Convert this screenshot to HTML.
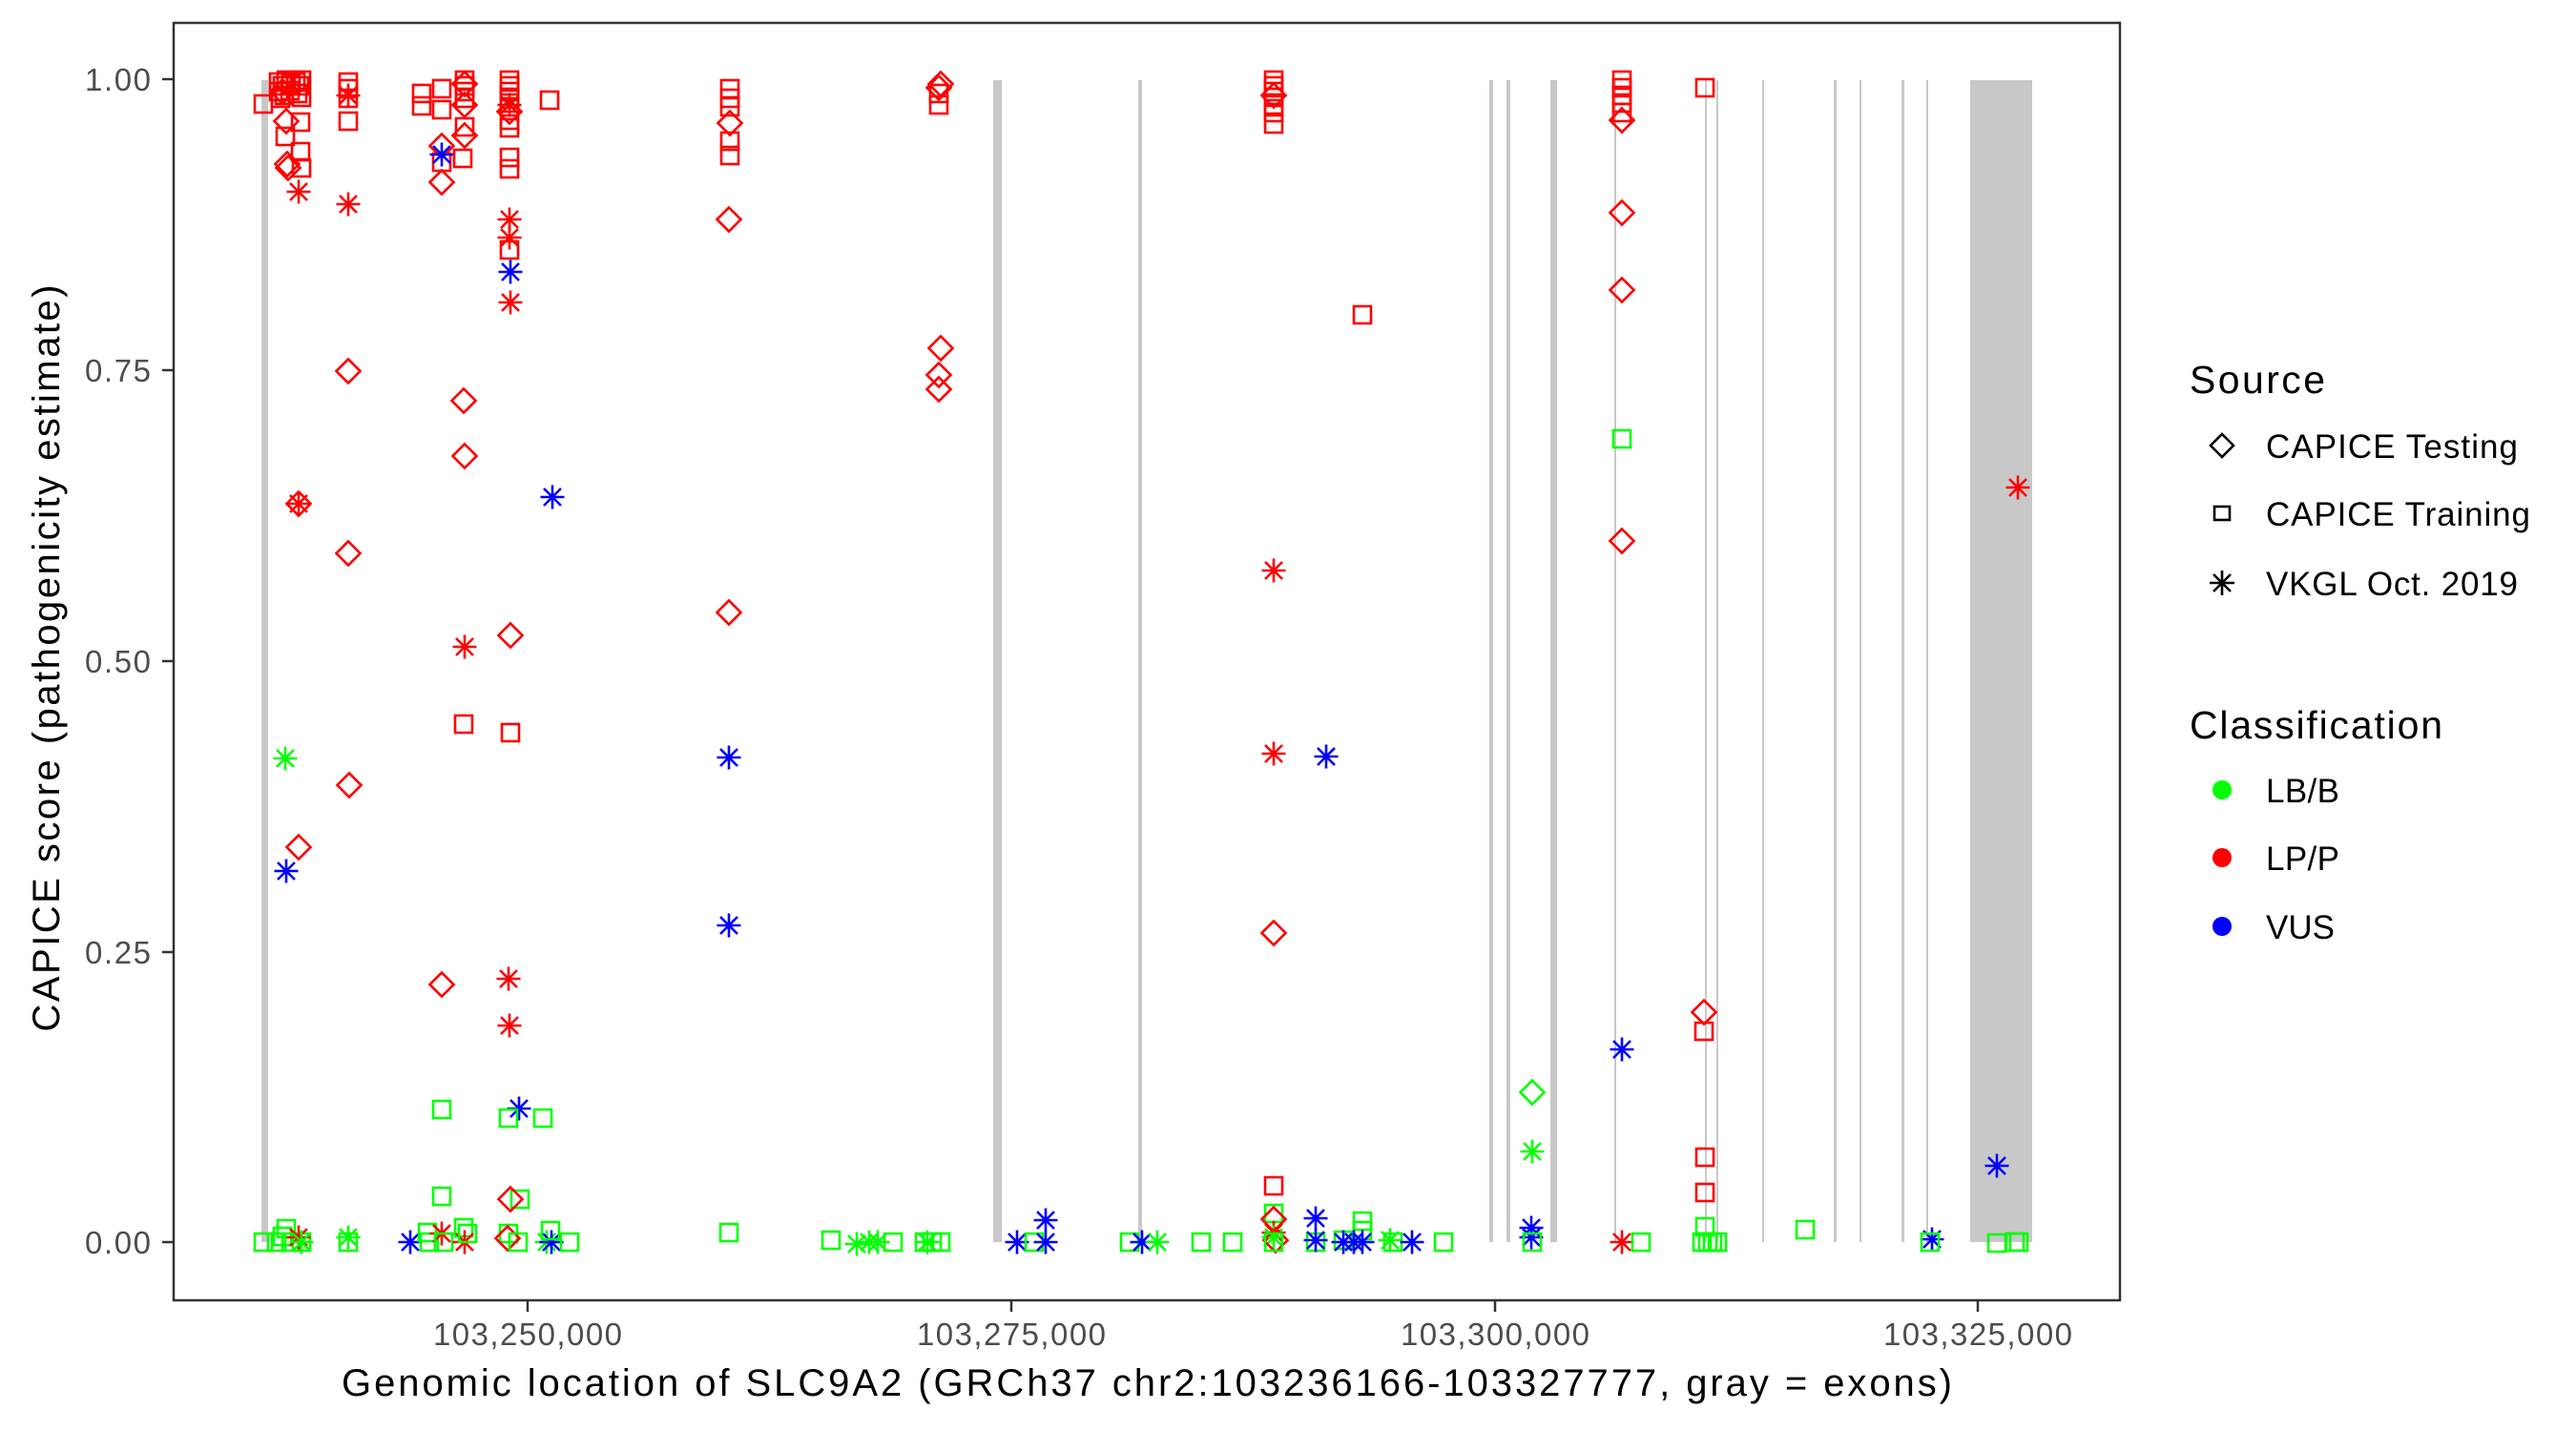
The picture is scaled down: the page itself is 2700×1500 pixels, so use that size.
<!DOCTYPE html>
<html><head><meta charset="utf-8"><style>
html,body{margin:0;padding:0;background:#fff;}
svg{display:block;font-family:"Liberation Sans",Arial,sans-serif;}
</style></head><body>
<svg id="s" width="2700" height="1500" viewBox="0 0 2700 1500" xmlns="http://www.w3.org/2000/svg">
<rect width="2700" height="1500" fill="#fff"/>
<g id="exons" fill="#c8c8c8">
<rect x="274" y="84" width="7" height="1218"/>
<rect x="1041" y="84" width="9" height="1218"/>
<rect x="1193" y="84" width="4" height="1218"/>
<rect x="1561" y="84" width="4" height="1218"/>
<rect x="1579" y="84" width="4" height="1218"/>
<rect x="1625" y="84" width="7" height="1218"/>
<rect x="1692" y="84" width="2" height="1218"/>
<rect x="1787" y="84" width="2" height="1218"/>
<rect x="1799" y="84" width="2" height="1218"/>
<rect x="1847" y="84" width="2" height="1218"/>
<rect x="1922" y="84" width="3" height="1218"/>
<rect x="1949" y="84" width="2" height="1218"/>
<rect x="1993" y="84" width="3" height="1218"/>
<rect x="2019" y="84" width="2" height="1218"/>
<rect x="2065" y="84" width="65" height="1218"/>
</g>
<g id="pts" fill="none" stroke-width="2.6"></g>
<rect x="182" y="24" width="2040" height="1339" fill="none" stroke="#333" stroke-width="2.5"/>
<g stroke="#333" stroke-width="2.5">
<line x1="170" y1="83" x2="182" y2="83"/><line x1="170" y1="388" x2="182" y2="388"/><line x1="170" y1="693" x2="182" y2="693"/><line x1="170" y1="998" x2="182" y2="998"/><line x1="170" y1="1302" x2="182" y2="1302"/>
<line x1="553" y1="1363" x2="553" y2="1375"/><line x1="1060" y1="1363" x2="1060" y2="1375"/><line x1="1567" y1="1363" x2="1567" y2="1375"/><line x1="2073" y1="1363" x2="2073" y2="1375"/>
</g>
<g fill="#4d4d4d" font-size="33" text-anchor="end">
<text x="158" y="95" textLength="69">1.00</text>
<text x="158" y="400" textLength="69">0.75</text>
<text x="158" y="705" textLength="69">0.50</text>
<text x="158" y="1010" textLength="69">0.25</text>
<text x="158" y="1314" textLength="69">0.00</text>
</g>
<g fill="#4d4d4d" font-size="33" text-anchor="middle">
<text x="553" y="1410" textLength="198">103,250,000</text>
<text x="1060" y="1410" textLength="198">103,275,000</text>
<text x="1567" y="1410" textLength="198">103,300,000</text>
<text x="2073" y="1410" textLength="198">103,325,000</text>
</g>
<text x="1202" y="1463" font-size="40" text-anchor="middle" textLength="1688" fill="#000">Genomic location of SLC9A2 (GRCh37 chr2:103236166-103327777, gray = exons)</text>
<text transform="translate(62,690) rotate(-90)" font-size="40" text-anchor="middle" textLength="783" fill="#000">CAPICE score (pathogenicity estimate)</text>
<g fill="#000">
<text x="2295" y="412" font-size="41" textLength="142">Source</text>
<text x="2375" y="480" font-size="35" textLength="264">CAPICE Testing</text>
<text x="2375" y="551" font-size="35" textLength="277">CAPICE Training</text>
<text x="2375" y="624" font-size="35" textLength="264">VKGL Oct. 2019</text>
<text x="2295" y="774" font-size="41" textLength="265">Classification</text>
<text x="2375" y="841" font-size="35" textLength="77">LB/B</text>
<text x="2375" y="912" font-size="35" textLength="77">LP/P</text>
<text x="2375" y="984" font-size="35" textLength="72">VUS</text>
</g>
<g stroke="#000" stroke-width="2.6" fill="none">
<path d="M2329 455 L2341 467 L2329 479 L2317 467 Z"/>
<rect x="2321" y="531" width="16" height="14"/>
<path d="M2329 598 V624 M2316 611 H2342 M2320 602 L2338 620 M2338 602 L2320 620"/>
</g>
<circle cx="2329" cy="828" r="10" fill="#00ff00"/>
<circle cx="2329" cy="899" r="10" fill="#ff0000"/>
<circle cx="2329" cy="971" r="10" fill="#0000ff"/>
</svg>
<script>
var C={r:"#ff0000",g:"#00ff00",b:"#0000ff"};
var P=[
// col ~300
[292,86,"S","r"],[296,90,"S","r"],[300,84,"S","r"],[305,88,"S","r"],[310,86,"S","r"],[314,90,"S","r"],[316,84,"S","r"],[292,96,"S","r"],[298,100,"S","r"],[304,95,"S","r"],[312,98,"S","r"],[316,102,"S","r"],[294,103,"S","r"],
[300,127,"D","r"],[296,96,"D","r"],[299,143,"S","r"],[315,128,"S","r"],[315,159,"S","r"],[316,176,"S","r"],[276,109,"S","r"],[301,172,"D","r"],[302,176,"D","r"],[313,201,"A","r"],[313,528,"A","r"],[313,528,"D","r"],
// col 365
[365,86,"S","r"],[365,93,"S","r"],[365,103,"S","r"],[365,127,"S","r"],[365,100,"A","r"],[365,214,"A","r"],[365,389,"D","r"],[365,580,"D","r"],[366,823,"D","r"],
// 442-463
[442,98,"S","r"],[442,111,"S","r"],[463,93,"S","r"],[463,115,"S","r"],[463,170,"S","r"],[463,153,"D","r"],[463,191,"D","r"],[463,162,"A","b"],
// 487
[487,84,"S","r"],[487,90,"S","r"],[487,96,"S","r"],[487,103,"S","r"],[487,133,"S","r"],[485,166,"S","r"],[487,110,"D","r"],[487,142,"D","r"],[487,88,"D","r"],[486,420,"D","r"],[487,478,"D","r"],[487,678,"A","r"],[486,759,"S","r"],
// 534
[534,84,"S","r"],[534,90,"S","r"],[534,96,"S","r"],[534,104,"S","r"],[534,112,"S","r"],[534,126,"S","r"],[534,134,"S","r"],[534,165,"S","r"],[534,177,"S","r"],[534,262,"S","r"],[534,117,"D","r"],[534,230,"A","r"],[534,249,"A","r"],[535,317,"A","r"],[534,110,"A","r"],[535,285,"A","b"],[535,666,"D","r"],[535,768,"S","r"],
[576,105,"S","r"],[579,521,"A","b"],
// 765
[765,93,"S","r"],[765,103,"S","r"],[765,112,"S","r"],[765,148,"S","r"],[765,163,"S","r"],[765,129,"D","r"],[764,230,"D","r"],[764,642,"D","r"],[764,794,"A","b"],[764,970,"A","b"],[764,1292,"S","g"],
// misc left
[299,795,"A","g"],[313,888,"D","r"],[300,913,"A","b"],
[463,1032,"D","r"],[533,1026,"A","r"],[534,1075,"A","r"],
[463,1163,"S","g"],[544,1162,"A","b"],[533,1172,"S","g"],[569,1172,"S","g"],[463,1254,"S","g"],[545,1257,"S","g"],[535,1257,"D","r"],
[430,1302,"A","b"],[448,1292,"S","g"],[450,1302,"S","g"],[463,1293,"A","r"],[465,1302,"S","g"],[486,1287,"S","g"],[487,1302,"A","r"],[490,1293,"S","g"],[533,1293,"S","g"],[532,1298,"D","r"],[543,1302,"S","g"],[573,1302,"A","g"],[578,1302,"A","b"],[577,1290,"S","g"],[597,1302,"S","g"],
[276,1302,"S","g"],[290,1302,"S","g"],[296,1296,"S","g"],[300,1288,"S","g"],[305,1302,"S","g"],[316,1302,"S","g"],[313,1297,"A","r"],[316,1302,"A","g"],[365,1302,"S","g"],[365,1297,"A","g"],
[871,1300,"S","g"],[898,1304,"A","g"],
// 984
[986,88,"D","r"],[984,92,"D","r"],[984,98,"S","r"],[984,110,"S","r"],[986,365,"D","r"],[984,393,"D","r"],[984,408,"D","r"],
// mid bottom
[911,1302,"A","g"],[920,1302,"A","g"],[936,1302,"S","g"],[969,1302,"S","g"],[977,1302,"S","g"],[986,1302,"S","g"],[972,1302,"A","g"],
[1066,1302,"A","b"],[1084,1302,"S","g"],[1096,1302,"A","b"],[1096,1279,"A","b"],
[1184,1302,"S","g"],[1197,1302,"A","b"],[1213,1302,"A","g"],[1259,1302,"S","g"],[1292,1302,"S","g"],
// 1335
[1335,84,"S","r"],[1335,90,"S","r"],[1335,96,"S","r"],[1335,102,"S","r"],[1335,110,"S","r"],[1335,118,"S","r"],[1335,130,"S","r"],[1335,100,"D","r"],[1335,598,"A","r"],[1335,790,"A","r"],[1335,978,"D","r"],
[1428,330,"S","r"],[1390,793,"A","b"],
[1335,1243,"S","r"],[1335,1272,"S","g"],[1335,1278,"D","r"],[1335,1292,"A","r"],[1335,1297,"A","g"],[1337,1300,"D","r"],[1335,1302,"S","g"],
[1379,1277,"A","b"],[1379,1302,"S","g"],[1379,1300,"A","b"],[1408,1300,"S","g"],[1408,1302,"A","b"],[1428,1280,"S","g"],[1428,1290,"S","g"],[1419,1302,"A","b"],[1428,1302,"A","b"],[1457,1300,"A","g"],[1460,1302,"S","g"],[1480,1302,"A","b"],[1513,1302,"S","g"],
// 1606
[1606,1145,"D","g"],[1606,1207,"A","g"],[1605,1287,"A","b"],[1605,1297,"A","b"],[1606,1302,"S","g"],
// 1700
[1700,84,"S","r"],[1700,92,"S","r"],[1700,100,"S","r"],[1700,108,"S","r"],[1700,118,"S","r"],[1700,126,"D","r"],[1700,223,"D","r"],[1700,304,"D","r"],[1700,460,"S","g"],[1700,567,"D","r"],[1700,1100,"A","b"],[1700,1302,"A","r"],[1720,1302,"S","g"],
// 1787
[1787,92,"S","r"],[1786,1061,"D","r"],[1786,1081,"S","r"],[1787,1213,"S","r"],[1787,1250,"S","r"],[1787,1286,"S","g"],[1784,1302,"S","g"],[1790,1302,"S","g"],[1795,1302,"S","g"],[1800,1302,"S","g"],
[1892,1289,"S","g"],[2025,1299,"A","b"],[2023,1302,"S","g"],
[2093,1222,"A","b"],[2115,511,"A","r"],[2093,1303,"S","g"],[2112,1302,"S","g"],[2116,1302,"S","g"]
];
var g=document.getElementById("pts"),ns="http://www.w3.org/2000/svg",h="";
P.forEach(function(p){var x=p[0],y=p[1],c=C[p[3]];
if(p[2]=="S")h+='<rect x="'+(x-9)+'" y="'+(y-9)+'" width="18" height="18" stroke="'+c+'"/>';
else if(p[2]=="D")h+='<path d="M'+x+' '+(y-12.5)+' L'+(x+12.5)+' '+y+' L'+x+' '+(y+12.5)+' L'+(x-12.5)+' '+y+' Z" stroke="'+c+'"/>';
else h+='<path d="M'+x+' '+(y-12.5)+' V'+(y+12.5)+' M'+(x-12.5)+' '+y+' H'+(x+12.5)+' M'+(x-9)+' '+(y-9)+' L'+(x+9)+' '+(y+9)+' M'+(x+9)+' '+(y-9)+' L'+(x-9)+' '+(y+9)+'" stroke="'+c+'"/>';
});
g.innerHTML=h;
</script>
</body></html>
